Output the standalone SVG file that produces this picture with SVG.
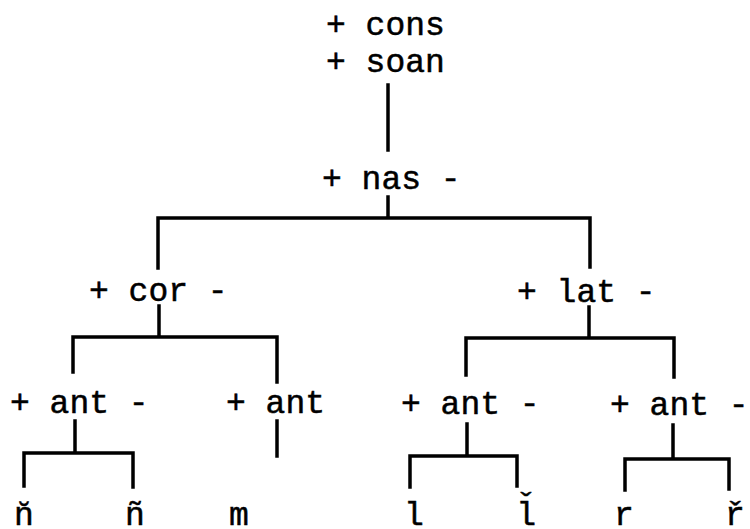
<svg xmlns="http://www.w3.org/2000/svg" width="750" height="529" viewBox="0 0 750 529">
  <style>
    text { font-family: "Liberation Mono", "Courier New", monospace; font-size: 33px; fill: #000; stroke: #000; stroke-width: 0.5px; }
    .leaf { text-anchor: middle; }
    .edge { stroke: #000; stroke-width: 3.5; stroke-linecap: square; stroke-linejoin: miter; fill: none; }
  </style>
  <rect width="750" height="529" fill="#fff"/>

  <!-- tree branches -->
  <g id="connectors">
    <path class="edge" d="M388 85 V150"/>
    <path class="edge" d="M388 197 V218 M158 268 V218 H590 V267"/>
    <path class="edge" d="M159 306 V337 M73 372 V337 H277 V382"/>
    <path class="edge" d="M589 307 V338 M466 375 V338 H674 V377"/>
    <path class="edge" d="M75 421 V453 M24 486 V453 H133 V487"/>
    <path class="edge" d="M277 421 V456"/>
    <path class="edge" d="M467 424 V456 M410 487 V456 H517 V486"/>
    <path class="edge" d="M673 425 V459 M625 490 V459 H729 V489"/>
  </g>

  <g id="root">
    <text x="326" y="35">+ cons</text>
    <text x="326" y="72">+ soan</text>
  </g>
  <g id="nas"><text x="322" y="189">+ nas -</text></g>
  <g id="cor"><text x="89" y="301">+ cor -</text></g>
  <g id="lat"><text x="517" y="302">+ lat -</text></g>
  <g id="ant-1"><text x="10" y="413">+ ant -</text></g>
  <g id="ant-2"><text x="226" y="413">+ ant</text></g>
  <g id="ant-3"><text x="401" y="414">+ ant -</text></g>
  <g id="ant-4"><text x="610" y="415">+ ant -</text></g>

  <g id="leaf-n-breve"><text class="leaf" x="24" y="525">n̆</text></g>
  <g id="leaf-n-tilde"><text class="leaf" x="135" y="525">ñ</text></g>
  <g id="leaf-m"><text class="leaf" x="239" y="525">m</text></g>
  <g id="leaf-l"><text class="leaf" x="414" y="525">l</text></g>
  <!-- l with a caron set above the stem -->
  <g id="leaf-l-caron"><text x="516" y="525">l<tspan dx="-20" dy="-9">ˇ</tspan></text></g>
  <g id="leaf-r"><text class="leaf" x="624" y="525">r</text></g>
  <g id="leaf-r-caron"><text class="leaf" x="735" y="525">ř</text></g>
</svg>
